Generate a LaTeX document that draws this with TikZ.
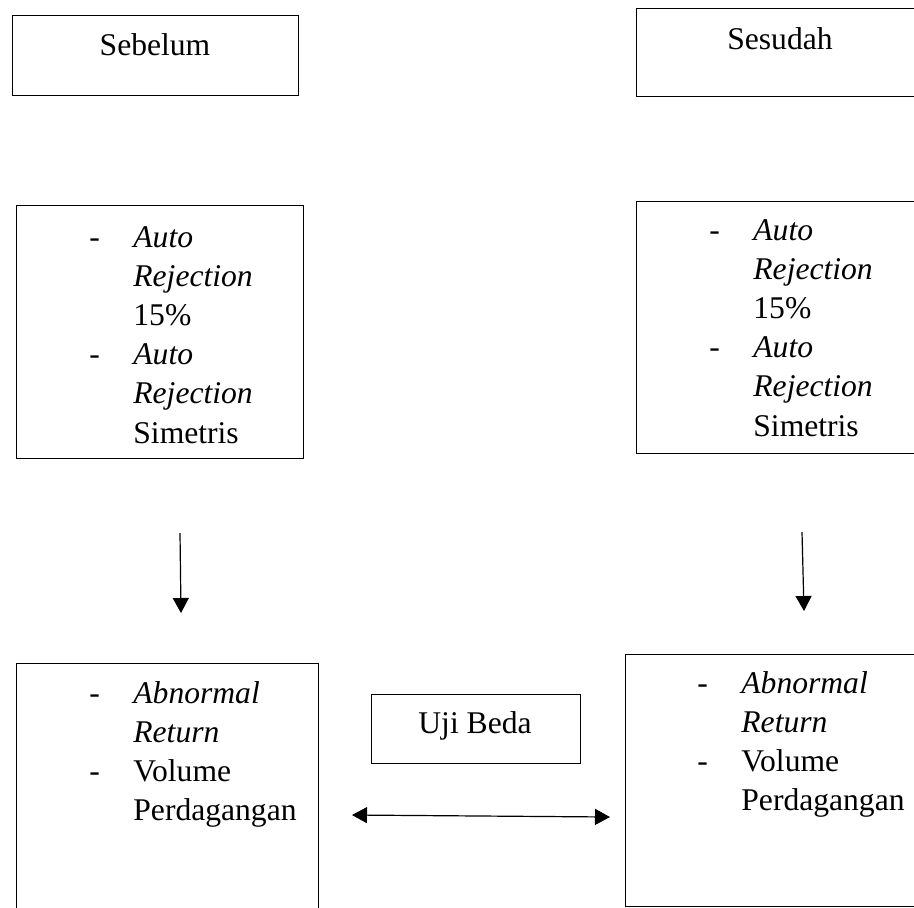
\documentclass[tikz,border=0pt]{standalone}
\usepackage{fontspec}
\setmainfont{Liberation Serif}
\usetikzlibrary{arrows.meta,positioning}
\tikzset{
  % plain framed boxes, sized by hand
  framebox/.style={draw, line width=0.6pt, inner sep=0pt, anchor=north west},
  % titles and list text
  titletext/.style={inner sep=0pt, anchor=base},
  listtext/.style={inner sep=0pt, anchor=base west, align=left},
  % connectors
  flowarr/.style={-{Triangle[length=7.5pt,width=8pt]}, line width=0.6pt},
  botharr/.style={{Triangle[length=7.5pt,width=8pt]}-{Triangle[length=7.5pt,width=8pt]}, line width=0.6pt},
}
\newcommand{\autolist}{\begin{tabular}[t]{@{}p{22pt}@{}l@{}}
  - & \textit{Auto}\\
    & \textit{Rejection}\\
    & 15\%\\
  - & \textit{Auto}\\
    & \textit{Rejection}\\
    & Simetris
\end{tabular}}
\newcommand{\hasillist}{\begin{tabular}[t]{@{}p{22pt}@{}l@{}}
  - & \textit{Abnormal}\\
    & \textit{Return}\\
  - & Volume\\
    & Perdagangan
\end{tabular}}
\begin{document}
\begin{tikzpicture}[x=0.5pt, y=-0.5pt, font=\fontsize{15.8}{19.6}\selectfont]
    \useasboundingbox (0,0) rectangle (914,907);
    \clip (0,0) rectangle (914,907);
    % top boxes
    \node[framebox, minimum width=143pt, minimum height=40pt] (sebelum) at (12,15) {};
    \node[titletext] (sebelumlbl) at (155,55) {Sebelum};
    \node[framebox, minimum width=150pt, minimum height=44pt] (sesudah) at (636,8) {};
    \node[titletext] (sesudahlbl) at (780,49) {Sesudah};
    % auto rejection boxes
    \node[framebox, minimum width=143.5pt, minimum height=126.5pt] (autoL) at (16,205) {};
    \node[listtext] (autoLtxt) at (89,247) {\autolist};
    \node[framebox, minimum width=150pt, minimum height=126pt] (autoR) at (636,201) {};
    \node[listtext] (autoRtxt) at (709,240) {\autolist};
    % result boxes
    \node[framebox, minimum width=151pt, minimum height=140pt] (hasilL) at (16,663) {};
    \node[listtext] (hasilLtxt) at (89,703) {\hasillist};
    \node[framebox, minimum width=155pt, minimum height=126pt] (hasilR) at (625,654) {};
    \node[listtext] (hasilRtxt) at (697,693) {\hasillist};
    % uji beda
    \node[framebox, minimum width=104.5pt, minimum height=34.5pt] (uji) at (371,694) {};
    \node[titletext] (ujilbl) at (475,733) {Uji Beda};
    % arrow ends
    \coordinate (downLa) at (180,533);
    \coordinate (downLb) at (181,613);
    \coordinate (downRa) at (802,532);
    \coordinate (downRb) at (804,611);
    \coordinate (bedaL) at (352,815);
    \coordinate (bedaR) at (610,817);
    % arrows
    \draw[flowarr] (downLa) -- (downLb);
    \draw[flowarr] (downRa) -- (downRb);
    \draw[botharr] (bedaL) -- (bedaR);
\end{tikzpicture}
\end{document}
